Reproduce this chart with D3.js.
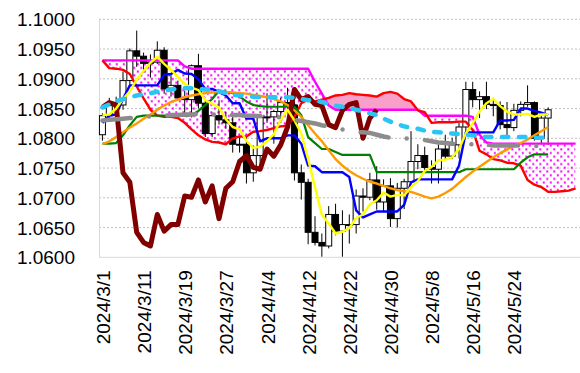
<!DOCTYPE html>
<html>
<head>
<meta charset="utf-8">
<script src="https://cdn.jsdelivr.net/npm/d3@7"></script>
<style>
    body { margin: 0; background: #fff; }
    text { font-family: "Liberation Sans", Arial, sans-serif; fill: #000; }
</style>
</head>
<body>
<svg id="chart" width="580" height="373"></svg>
<script>
// Trading days on the category axis (candles run to 5/31, the cloud a few days further).
var dates = [
    "2024/3/1", "2024/3/4", "2024/3/5", "2024/3/6", "2024/3/7", "2024/3/8",
    "2024/3/11", "2024/3/12", "2024/3/13", "2024/3/14", "2024/3/15",
    "2024/3/18", "2024/3/19", "2024/3/20", "2024/3/21", "2024/3/22",
    "2024/3/25", "2024/3/26", "2024/3/27", "2024/3/28", "2024/3/29",
    "2024/4/1", "2024/4/2", "2024/4/3", "2024/4/4", "2024/4/5",
    "2024/4/8", "2024/4/9", "2024/4/10", "2024/4/11", "2024/4/12",
    "2024/4/15", "2024/4/16", "2024/4/17", "2024/4/18", "2024/4/19",
    "2024/4/22", "2024/4/23", "2024/4/24", "2024/4/25", "2024/4/26",
    "2024/4/29", "2024/4/30", "2024/5/1", "2024/5/2", "2024/5/3",
    "2024/5/6", "2024/5/7", "2024/5/8", "2024/5/9", "2024/5/10",
    "2024/5/13", "2024/5/14", "2024/5/15", "2024/5/16", "2024/5/17",
    "2024/5/20", "2024/5/21", "2024/5/22", "2024/5/23", "2024/5/24",
    "2024/5/27", "2024/5/28", "2024/5/29", "2024/5/30", "2024/5/31",
    "2024/6/3", "2024/6/4", "2024/6/5", "2024/6/6"
];

var tickLabels = ["2024/3/1", "2024/3/11", "2024/3/19", "2024/3/27", "2024/4/4", "2024/4/12",
    "2024/4/22", "2024/4/30", "2024/5/8", "2024/5/16", "2024/5/24"];

var yTicks = [1.06, 1.065, 1.07, 1.075, 1.08, 1.085, 1.09, 1.095, 1.1];

// Candles
var open = [1.0806, 1.0838, 1.0855, 1.0856, 1.0897, 1.0947, 1.0938, 1.0926, 1.0928, 1.0948,
    1.0884, 1.0889, 1.0868, 1.0865, 1.0922, 1.0859, 1.0808, 1.0838, 1.0831, 1.0826,
    1.0790, 1.0790, 1.0742, 1.0771, 1.0835, 1.0836, 1.0845, 1.0860, 1.0856, 1.0742,
    1.0726, 1.0642, 1.0625, 1.0619, 1.0672, 1.0644, 1.0655, 1.0655, 1.0703, 1.0701,
    1.0730, 1.0693, 1.0720, 1.0665, 1.0716, 1.0727, 1.0761, 1.0771, 1.0751, 1.0748,
    1.0782, 1.0770, 1.0789, 1.0819, 1.0882, 1.0865, 1.0870, 1.0857, 1.0855, 1.0823,
    1.0818, 1.0847, 1.0857, 1.0860, 1.0800, 1.0834];
var high = [1.0842, 1.0868, 1.0870, 1.0912, 1.0951, 1.0981, 1.0944, 1.0941, 1.0963, 1.0953,
    1.0906, 1.0897, 1.0880, 1.0924, 1.0942, 1.0865, 1.0843, 1.0864, 1.0844, 1.0838,
    1.0803, 1.0803, 1.0788, 1.0838, 1.0876, 1.0848, 1.0868, 1.0885, 1.0868, 1.0756,
    1.0732, 1.0669, 1.0640, 1.0686, 1.0690, 1.0679, 1.0672, 1.0714, 1.0716, 1.0742,
    1.0753, 1.0731, 1.0733, 1.0725, 1.0732, 1.0812, 1.0790, 1.0786, 1.0763, 1.0790,
    1.0806, 1.0801, 1.0827, 1.0895, 1.0895, 1.0879, 1.0895, 1.0868, 1.0862, 1.0861,
    1.0858, 1.0862, 1.0889, 1.0862, 1.0838, 1.0852];
var low = [1.0796, 1.0832, 1.0835, 1.0848, 1.0887, 1.0920, 1.0910, 1.0902, 1.0925, 1.0875,
    1.0870, 1.0864, 1.0837, 1.0835, 1.0850, 1.0802, 1.0802, 1.0823, 1.0816, 1.0776,
    1.0776, 1.0724, 1.0727, 1.0757, 1.0826, 1.0791, 1.0826, 1.0848, 1.0729, 1.0697,
    1.0622, 1.0620, 1.0601, 1.0615, 1.0637, 1.0601, 1.0623, 1.0640, 1.0677, 1.0696,
    1.0680, 1.0676, 1.0651, 1.0650, 1.0681, 1.0724, 1.0748, 1.0744, 1.0724, 1.0724,
    1.0765, 1.0765, 1.0766, 1.0807, 1.0852, 1.0834, 1.0849, 1.0837, 1.0815, 1.0805,
    1.0812, 1.0837, 1.0853, 1.0796, 1.0790, 1.0789];
var close = [1.0838, 1.0855, 1.0856, 1.0897, 1.0947, 1.0938, 1.0926, 1.0928, 1.0948, 1.0883,
    1.0889, 1.0868, 1.0865, 1.0922, 1.0859, 1.0808, 1.0838, 1.0831, 1.0826, 1.0790,
    1.0790, 1.0742, 1.0771, 1.0835, 1.0836, 1.0845, 1.0860, 1.0856, 1.0742, 1.0726,
    1.0642, 1.0625, 1.0619, 1.0672, 1.0644, 1.0655, 1.0655, 1.0703, 1.0701, 1.0730,
    1.0693, 1.0720, 1.0665, 1.0716, 1.0727, 1.0761, 1.0771, 1.0751, 1.0748, 1.0782,
    1.0770, 1.0789, 1.0819, 1.0882, 1.0865, 1.0870, 1.0857, 1.0855, 1.0823, 1.0818,
    1.0847, 1.0857, 1.0860, 1.0800, 1.0834, 1.0848];

// Conversion line (blue) and base line (green)
var tenkan = [1.0826, 1.0838, 1.0840, 1.0866, 1.0889, 1.0889, 1.0889, 1.0889, 1.0889, 1.0907,
    1.0908, 1.0915, 1.0909, 1.0908, 1.0899, 1.0883, 1.0883, 1.0878, 1.0872, 1.0859,
    1.0859, 1.0833, 1.0833, 1.0795, 1.0800, 1.0800, 1.0800, 1.0805, 1.0805, 1.0791,
    1.0754, 1.0753, 1.0743, 1.0743, 1.0743, 1.0743, 1.0735, 1.0679, 1.0667, 1.0672,
    1.0677, 1.0677, 1.0677, 1.0677, 1.0688, 1.0726, 1.0731, 1.0731, 1.0731, 1.0731,
    1.0731, 1.0731, 1.0754, 1.0810, 1.0810, 1.0810, 1.0810, 1.0810, 1.0830, 1.0830,
    1.0831, 1.0850, 1.0850, 1.0846, 1.0843, 1.0839];
var kijun = [1.0791, 1.0791, 1.0792, 1.0805, 1.0822, 1.0836, 1.0838, 1.0838, 1.0838, 1.0838,
    1.0838, 1.0838, 1.0838, 1.0839, 1.0846, 1.0856, 1.0866, 1.0880, 1.0878, 1.0876,
    1.0870, 1.0862, 1.0856, 1.0854, 1.0853, 1.0853, 1.0853, 1.0853, 1.0853, 1.0839,
    1.0802, 1.0792, 1.0782, 1.0782, 1.0777, 1.0772, 1.0772, 1.0772, 1.0772, 1.0772,
    1.0743, 1.0743, 1.0743, 1.0743, 1.0743, 1.0743, 1.0743, 1.0743, 1.0743, 1.0743,
    1.0743, 1.0743, 1.0743, 1.0748, 1.0748, 1.0748, 1.0748, 1.0748, 1.0748, 1.0748,
    1.0748, 1.0759, 1.0768, 1.0773, 1.0773, 1.0773];

// Leading spans (red = A, magenta = B), running past the last candle
var spanA = [1.0931, 1.0918, 1.0917, 1.0915, 1.0908, 1.0887, 1.0867, 1.0848, 1.0838, 1.0836,
    1.0836, 1.0834, 1.0826, 1.0815, 1.0805, 1.0798, 1.0794, 1.0793, 1.0790, 1.0800,
    1.0803, 1.0803, 1.0811, 1.0812, 1.0814, 1.0817, 1.0820, 1.0821, 1.0836, 1.0859,
    1.0865, 1.0862, 1.0865, 1.0868, 1.0872, 1.0873, 1.0876, 1.0874, 1.0873, 1.0872,
    1.0870, 1.0876, 1.0878, 1.0875, 1.0866, 1.0862, 1.0847, 1.0844, 1.0826, 1.0827,
    1.0827, 1.0827, 1.0828, 1.0828, 1.0814, 1.0779, 1.0773, 1.0765, 1.0763, 1.0759,
    1.0758, 1.0754, 1.0730, 1.0722, 1.0718, 1.0710, 1.0710, 1.0711, 1.0712, 1.0716];
var spanB = [1.0931, 1.0931, 1.0931, 1.0931, 1.0931, 1.0931, 1.0931, 1.0931, 1.0931, 1.0931,
    1.0931, 1.0931, 1.0921, 1.0917, 1.0917, 1.0917, 1.0917, 1.0917, 1.0917, 1.0917,
    1.0917, 1.0917, 1.0917, 1.0917, 1.0917, 1.0917, 1.0917, 1.0917, 1.0917, 1.0917,
    1.0917, 1.0895, 1.0875, 1.0855, 1.0848, 1.0848, 1.0848, 1.0848, 1.0848, 1.0848,
    1.0848, 1.0848, 1.0848, 1.0848, 1.0848, 1.0848, 1.0848, 1.0838, 1.0838, 1.0838,
    1.0838, 1.0838, 1.0838, 1.0838, 1.0836, 1.0806, 1.0793, 1.0791, 1.0791, 1.0791,
    1.0791, 1.0791, 1.0791, 1.0791, 1.0791, 1.0791, 1.0791, 1.0791, 1.0791, 1.0791];

// Lagging span (maroon), plotted back from 3/1
var chikou = [1.0852, 1.0860, 1.0856, 1.0742, 1.0726, 1.0642, 1.0625, 1.0619, 1.0672, 1.0644,
    1.0655, 1.0655, 1.0703, 1.0701, 1.0730, 1.0693, 1.0720, 1.0665, 1.0716, 1.0727,
    1.0761, 1.0771, 1.0751, 1.0748, 1.0782, 1.0770, 1.0789, 1.0819, 1.0882, 1.0865,
    1.0870, 1.0857, 1.0855, 1.0823, 1.0818, 1.0847, 1.0857, 1.0860, 1.0800, 1.0834,
    1.0848];

// Moving averages
var maShort = [1.0839, 1.0840, 1.0850, 1.0866, 1.0879, 1.0899, 1.0913, 1.0927, 1.0937, 1.0925,
    1.0915, 1.0903, 1.0891, 1.0885, 1.0881, 1.0864, 1.0858, 1.0852, 1.0832, 1.0819,
    1.0815, 1.0796, 1.0784, 1.0786, 1.0795, 1.0807, 1.0831, 1.0848, 1.0830, 1.0808,
    1.0765, 1.0718, 1.0671, 1.0657, 1.0640, 1.0643, 1.0649, 1.0666, 1.0672, 1.0689,
    1.0696, 1.0709, 1.0702, 1.0705, 1.0704, 1.0718, 1.0728, 1.0745, 1.0752, 1.0763,
    1.0764, 1.0768, 1.0782, 1.0808, 1.0825, 1.0845, 1.0859, 1.0866, 1.0854, 1.0845,
    1.0840, 1.0840, 1.0841, 1.0836, 1.0840, 1.0840];
var maMid = [1.0790, 1.0795, 1.0802, 1.0810, 1.0818, 1.0825, 1.0833, 1.0840, 1.0848, 1.0855,
    1.0861, 1.0865, 1.0869, 1.0872, 1.0874, 1.0876, 1.0877, 1.0878, 1.0878, 1.0877,
    1.0876, 1.0875, 1.0873, 1.0871, 1.0869, 1.0866, 1.0862, 1.0856, 1.0847, 1.0836,
    1.0822, 1.0808, 1.0795, 1.0780, 1.0765, 1.0754, 1.0745, 1.0738, 1.0732, 1.0727,
    1.0724, 1.0720, 1.0716, 1.0713, 1.0711, 1.0710, 1.0706, 1.0702, 1.0699, 1.0702,
    1.0708, 1.0715, 1.0725, 1.0735, 1.0744, 1.0752, 1.0760, 1.0768, 1.0775, 1.0781,
    1.0788, 1.0792, 1.0798, 1.0805, 1.0812, 1.0819];
var maLong = [1.0852, 1.0857, 1.0862, 1.0866, 1.0869, 1.0872, 1.0874, 1.0876, 1.0878, 1.0880,
    1.0882, 1.0884, 1.0884, 1.0884, 1.0883, 1.0882, 1.0881, 1.0879, 1.0876, 1.0873,
    1.0872, 1.0871, 1.0870, 1.0869, 1.0869, 1.0869, 1.0869, 1.0869, 1.0868, 1.0866,
    1.0864, 1.0863, 1.0861, 1.0858, 1.0855, 1.0853, 1.0851, 1.0848, 1.0845, 1.0842,
    1.0839, 1.0833, 1.0828, 1.0824, 1.0820, 1.0818, 1.0816, 1.0813, 1.0811, 1.0810,
    1.0809, 1.0808, 1.0807, 1.0806, 1.0805, 1.0803, 1.0802, 1.0802, 1.0802, 1.0802,
    1.0802, 1.0802, 1.0802, 1.0801, 1.0801, 1.0801];
var maGray = [1.0830, 1.0831, 1.0832, 1.0833, 1.0834, 1.0835, 1.0836, 1.0837, 1.0838, 1.0838,
    1.0839, 1.0839, 1.0840, 1.0840, 1.0841, 1.0841, 1.0840, 1.0840, 1.0840, 1.0839,
    1.0839, 1.0838, 1.0838, 1.0837, 1.0836, 1.0836, 1.0835, 1.0833, 1.0831, 1.0829,
    1.0827, 1.0825, 1.0822, 1.0820, 1.0818, 1.0815, 1.0813, 1.0811, 1.0810, 1.0809,
    1.0806, 1.0803, 1.0801, 1.0800, 1.0800, 1.0799, 1.0798, 1.0797, 1.0795, 1.0793,
    1.0792, 1.0791, 1.0791, 1.0790, 1.0790, 1.0789, 1.0789, 1.0788, 1.0788, 1.0788,
    1.0788, 1.0788, 1.0787, 1.0787, 1.0787, 1.0787];

// Plot area
var plotLeft = 99, plotRight = 579, plotTop = 19.3, plotBottom = 257.3;

var svg = d3.select("#chart");

var x = d3.scaleBand()
    .domain(d3.range(dates.length))
    .range([plotLeft, plotRight]);

var y = d3.scaleLinear()
    .domain([1.06, 1.1])
    .range([plotBottom, plotTop]);

function cx(i) { return x(i) + x.bandwidth() / 2; }

var defs = svg.append("defs");

// Magenta dot fill for the cloud where span B is on top
var pattern = defs.append("pattern")
    .attr("id", "dots")
    .attr("patternUnits", "userSpaceOnUse")
    .attr("width", 7)
    .attr("height", 7.4);
pattern.append("rect").attr("x", 0.3).attr("y", 0.3).attr("width", 2).attr("height", 2).attr("fill", "#ff00ff");
pattern.append("rect").attr("x", 3.8).attr("y", 4).attr("width", 2).attr("height", 2).attr("fill", "#ff00ff");

// Gridlines
svg.append("g")
    .selectAll("line")
    .data(yTicks.slice(1))
    .enter().append("line")
    .attr("x1", plotLeft)
    .attr("x2", 580)
    .attr("y1", function(d) { return y(d); })
    .attr("y2", function(d) { return y(d); })
    .attr("stroke", "#bfbfbf")
    .attr("stroke-width", 1)
    .attr("stroke-dasharray", "2,2");

// Cloud: clip one span's area by the other's so each side gets its own fill.
function areaTo(data, edge) {
    return d3.area()
        .x(function(d, i) { return cx(i); })
        .y0(edge)
        .y1(function(d) { return y(d); })(data);
}

defs.append("clipPath").attr("id", "aboveA")
    .append("path").attr("d", areaTo(spanA, 0));
defs.append("clipPath").attr("id", "aboveB")
    .append("path").attr("d", areaTo(spanB, 0));

svg.append("path")
    .attr("d", areaTo(spanB, 373))
    .attr("clip-path", "url(#aboveA)")
    .attr("fill", "url(#dots)");

svg.append("path")
    .attr("d", areaTo(spanA, 373))
    .attr("clip-path", "url(#aboveB)")
    .attr("fill", "#f9a0ca");

// Axes
var yAxis = svg.append("g")
    .attr("transform", "translate(" + plotLeft + ",0)")
    .call(d3.axisLeft(y).tickValues(yTicks).tickFormat(d3.format(".4f")).tickSize(0).tickPadding(24));
yAxis.select(".domain").attr("stroke", "#d9d9d9");
yAxis.selectAll("text")
    .style("font-size", "19px")
    .attr("dy", "0.35em");

var xAxis = svg.append("g")
    .attr("transform", "translate(0," + plotBottom + ")")
    .call(d3.axisBottom(x)
        .tickValues(tickLabels.map(function(t) { return dates.indexOf(t); }))
        .tickFormat(function(i) { return dates[i]; })
        .tickSize(0));
xAxis.select(".domain").attr("stroke", "#d9d9d9").attr("d", "M" + plotLeft + ",0H580");
xAxis.selectAll("text")
    .style("font-size", "19px")
    .attr("transform", "rotate(-90)")
    .attr("text-anchor", "end")
    .attr("x", -13)
    .attr("y", 0)
    .attr("dy", "0.4em");

// Candlesticks
var bw = 6;
var candles = svg.append("g")
    .selectAll("g")
    .data(close)
    .enter().append("g");

candles.append("line")
    .attr("x1", function(d, i) { return cx(i); })
    .attr("x2", function(d, i) { return cx(i); })
    .attr("y1", function(d, i) { return y(high[i]); })
    .attr("y2", function(d, i) { return y(low[i]); })
    .attr("stroke", "#000")
    .attr("stroke-width", 1);

candles.append("rect")
    .attr("x", function(d, i) { return cx(i) - bw / 2; })
    .attr("width", bw)
    .attr("y", function(d, i) { return y(Math.max(open[i], d)); })
    .attr("height", function(d, i) { return Math.max(1, Math.abs(y(open[i]) - y(d))); })
    .attr("fill", function(d, i) { return d >= open[i] ? "#fff" : "#000"; })
    .attr("stroke", "#000")
    .attr("stroke-width", 1);

// Lines
function drawLine(data, color, width, dash) {
    var line = d3.line()
        .x(function(d, i) { return cx(i); })
        .y(function(d) { return y(d); });
    var p = svg.append("path")
        .attr("d", line(data))
        .attr("fill", "none")
        .attr("stroke", color)
        .attr("stroke-width", width)
        .attr("stroke-linejoin", "round");
    if (dash) {
        p.attr("stroke-dasharray", dash).attr("stroke-linecap", "round");
    }
    return p;
}

drawLine(spanB, "#ff00ff", 2.4);
drawLine(spanA, "#ff0000", 2.4);
drawLine(kijun, "#008000", 2.2);
drawLine(tenkan, "#0000ff", 2.4);
drawLine(maMid, "#ff9900", 2.4);
drawLine(chikou, "#800000", 5);
drawLine(maShort, "#ffff00", 2.4);
drawLine(maGray, "#8c8c8c", 4.5, "28.5,18.25,0,18.25");
drawLine(maLong, "#29c5f6", 4.5, "6.5,10.5");
</script>
</body>
</html>
